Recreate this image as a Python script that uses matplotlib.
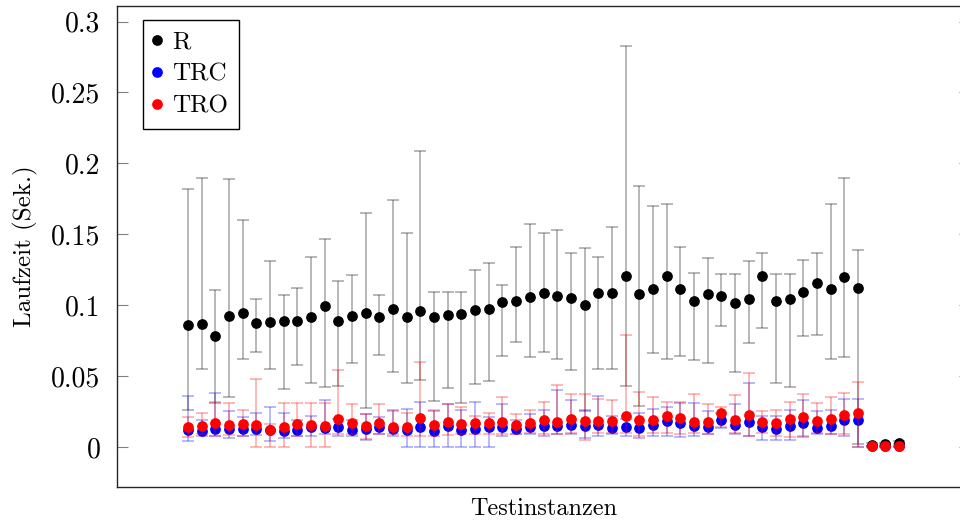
import numpy as np
import matplotlib.pyplot as plt
from matplotlib.ticker import FixedLocator, FuncFormatter

plt.rcParams['font.family'] = 'cmr10'
plt.rcParams['mathtext.fontset'] = 'cm'
plt.rcParams['axes.formatter.use_mathtext'] = True

# mean runtimes per test instance (seconds)
R = [0.0858, 0.0867, 0.0780, 0.0921, 0.0945, 0.0874, 0.0879, 0.0891, 0.0886, 0.0917,
     0.0992, 0.0886, 0.0926, 0.0947, 0.0914, 0.0973, 0.0919, 0.0961, 0.0919, 0.0931,
     0.0936, 0.0966, 0.0971, 0.1023, 0.1030, 0.1056, 0.1088, 0.1067, 0.1051, 0.0999,
     0.1084, 0.1086, 0.1208, 0.1081, 0.1112, 0.1208, 0.1117, 0.1032, 0.1079, 0.1067,
     0.1018, 0.1044, 0.1208, 0.1030, 0.1046, 0.1096, 0.1154, 0.1114, 0.1199, 0.1119,
     0.0015, 0.0018, 0.0028]
R_lo = [0.0261, 0.0552, 0.0310, 0.0353, 0.0621, 0.0670, 0.0552, 0.0411, 0.0581, 0.0451,
        0.0423, 0.0430, 0.0593, 0.0272, 0.0651, 0.0531, 0.0451, 0.0473, 0.0322, 0.0414,
        0.0310, 0.0442, 0.0463, 0.0639, 0.0743, 0.0632, 0.0672, 0.0623, 0.0543, 0.0250,
        0.0552, 0.0552, 0.0433, 0.0292, 0.0661, 0.0623, 0.0642, 0.0613, 0.0592, 0.0851,
        0.0531, 0.0731, 0.0839, 0.0451, 0.0421, 0.0780, 0.0790, 0.0621, 0.0632, 0.0023,
        0.0010, 0.0012, 0.0022]
R_hi = [0.182, 0.190, 0.111, 0.189, 0.160, 0.104, 0.131, 0.107, 0.112, 0.134,
        0.147, 0.117, 0.121, 0.165, 0.107, 0.174, 0.151, 0.209, 0.109, 0.109,
        0.109, 0.125, 0.130, 0.114, 0.141, 0.157, 0.151, 0.153, 0.137, 0.140,
        0.134, 0.155, 0.283, 0.184, 0.170, 0.171, 0.141, 0.123, 0.133, 0.122,
        0.122, 0.131, 0.137, 0.122, 0.122, 0.132, 0.137, 0.171, 0.190, 0.139,
        0.003, 0.003, 0.004]

TRC = [0.0120, 0.0115, 0.0129, 0.0129, 0.0127, 0.0127, 0.0120, 0.0115, 0.0122, 0.0138,
       0.0131, 0.0138, 0.0120, 0.0124, 0.0138, 0.0127, 0.0120, 0.0138, 0.0115, 0.0146,
       0.0120, 0.0129, 0.0138, 0.0138, 0.0129, 0.0143, 0.0146, 0.0150, 0.0157, 0.0146,
       0.0153, 0.0131, 0.0143, 0.0136, 0.0157, 0.0181, 0.0169, 0.0146, 0.0143, 0.0190,
       0.0153, 0.0174, 0.0141, 0.0129, 0.0150, 0.0169, 0.0136, 0.0150, 0.0188, 0.0188,
       0.0005, 0.0005, 0.0005]
TRC_lo = [0.0044, 0.0080, 0.0075, 0.0063, 0.0075, 0.0087, 0.0040, 0.0060, 0.0080, 0.0080,
          0.0090, 0.0080, 0.0080, 0.0050, 0.0090, 0.0080, 0.0000, 0.0000, 0.0000, 0.0000,
          0.0000, 0.0000, 0.0000, 0.0080, 0.0090, 0.0090, 0.0080, 0.0090, 0.0090, 0.0060,
          0.0080, 0.0090, 0.0080, 0.0060, 0.0080, 0.0080, 0.0070, 0.0080, 0.0090, 0.0130,
          0.0090, 0.0080, 0.0050, 0.0050, 0.0050, 0.0070, 0.0090, 0.0090, 0.0080, 0.0000,
          0.0000, 0.0000, 0.0000]
TRC_hi = [0.036, 0.019, 0.038, 0.025, 0.021, 0.024, 0.028, 0.024, 0.019, 0.022,
          0.033, 0.020, 0.019, 0.023, 0.021, 0.026, 0.027, 0.032, 0.025, 0.030,
          0.026, 0.032, 0.021, 0.030, 0.019, 0.023, 0.026, 0.040, 0.033, 0.026,
          0.036, 0.022, 0.020, 0.024, 0.027, 0.028, 0.031, 0.031, 0.025, 0.024,
          0.030, 0.045, 0.022, 0.022, 0.026, 0.033, 0.025, 0.026, 0.034, 0.034,
          0.001, 0.001, 0.001]

TRO = [0.0138, 0.0146, 0.0167, 0.0157, 0.0160, 0.0157, 0.0122, 0.0138, 0.0162, 0.0155,
       0.0150, 0.0195, 0.0169, 0.0148, 0.0169, 0.0143, 0.0141, 0.0207, 0.0153, 0.0176,
       0.0160, 0.0172, 0.0167, 0.0176, 0.0157, 0.0172, 0.0190, 0.0176, 0.0200, 0.0186,
       0.0181, 0.0181, 0.0221, 0.0188, 0.0188, 0.0221, 0.0207, 0.0179, 0.0176, 0.0242,
       0.0190, 0.0223, 0.0179, 0.0172, 0.0195, 0.0211, 0.0181, 0.0200, 0.0223, 0.0242,
       0.0005, 0.0005, 0.0005]
TRO_lo = [0.0070, 0.0090, 0.0075, 0.0087, 0.0080, 0.0000, 0.0000, 0.0000, 0.0080, 0.0000,
          0.0000, 0.0090, 0.0090, 0.0056, 0.0090, 0.0090, 0.0080, 0.0080, 0.0080, 0.0087,
          0.0090, 0.0090, 0.0090, 0.0090, 0.0090, 0.0100, 0.0090, 0.0090, 0.0100, 0.0050,
          0.0100, 0.0100, 0.0100, 0.0080, 0.0100, 0.0100, 0.0090, 0.0100, 0.0090, 0.0140,
          0.0100, 0.0080, 0.0100, 0.0080, 0.0070, 0.0080, 0.0100, 0.0090, 0.0090, 0.0000,
          0.0000, 0.0000, 0.0000]
TRO_hi = [0.021, 0.024, 0.032, 0.031, 0.026, 0.048, 0.016, 0.031, 0.031, 0.031,
          0.031, 0.0545, 0.030, 0.023, 0.030, 0.025, 0.024, 0.0596, 0.026, 0.0305,
          0.028, 0.022, 0.024, 0.035, 0.023, 0.026, 0.032, 0.044, 0.037, 0.037,
          0.034, 0.033, 0.079, 0.039, 0.035, 0.032, 0.032, 0.037, 0.030, 0.028,
          0.0365, 0.052, 0.025, 0.026, 0.032, 0.037, 0.031, 0.035, 0.038, 0.046,
          0.001, 0.001, 0.001]

x = np.arange(1, len(R) + 1)

fig = plt.figure(figsize=(9.6, 5.2), dpi=100)
ax = fig.add_axes([117 / 960, 33 / 520, 853 / 960, 481 / 520])


def plot_series(mean, lo, hi, color, label):
    mean = np.array(mean)
    yerr = [mean - np.array(lo), np.array(hi) - mean]
    ax.errorbar(x, mean, yerr=yerr, fmt='none', ecolor=color, alpha=0.3,
                elinewidth=1.3, capsize=4, capthick=1.3)
    ax.plot(x, mean, 'o', color=color, ms=6.7, mec=color, label=label)


plot_series(R, R_lo, R_hi, 'black', 'R')
plot_series(TRC, TRC_lo, TRC_hi, 'blue', 'TRC')
plot_series(TRO, TRO_lo, TRO_hi, 'red', 'TRO')

ax.set_xlim(-4.2, 58.2)
ax.set_ylim(-0.02827, 0.3110)
ax.set_xticks([])
ax.yaxis.set_major_locator(FixedLocator([0, 0.05, 0.1, 0.15, 0.2, 0.25, 0.3]))
ax.yaxis.set_major_formatter(FuncFormatter(lambda v, p: '%g' % round(v, 2)))
ax.tick_params(axis='y', direction='in', length=8, width=0.8, color='0.5',
               left=True, right=True, labelsize=20, pad=12)
for sp in ax.spines.values():
    sp.set_linewidth(1.0)
    sp.set_color('0.15')

ax.set_xlabel('Testinstanzen', fontsize=17.5, labelpad=8)
ax.set_ylabel('Laufzeit (Sek.)', fontsize=18, labelpad=9)

leg = ax.legend(loc='upper left', bbox_to_anchor=(0.0305, 0.971), fontsize=18,
                frameon=True, fancybox=False, edgecolor='black', framealpha=1,
                borderaxespad=0, handlelength=0.2, handletextpad=0.5,
                labelspacing=0.38, borderpad=0.45)
leg.get_frame().set_linewidth(1.0)

fig.savefig('out.png', dpi=100)
